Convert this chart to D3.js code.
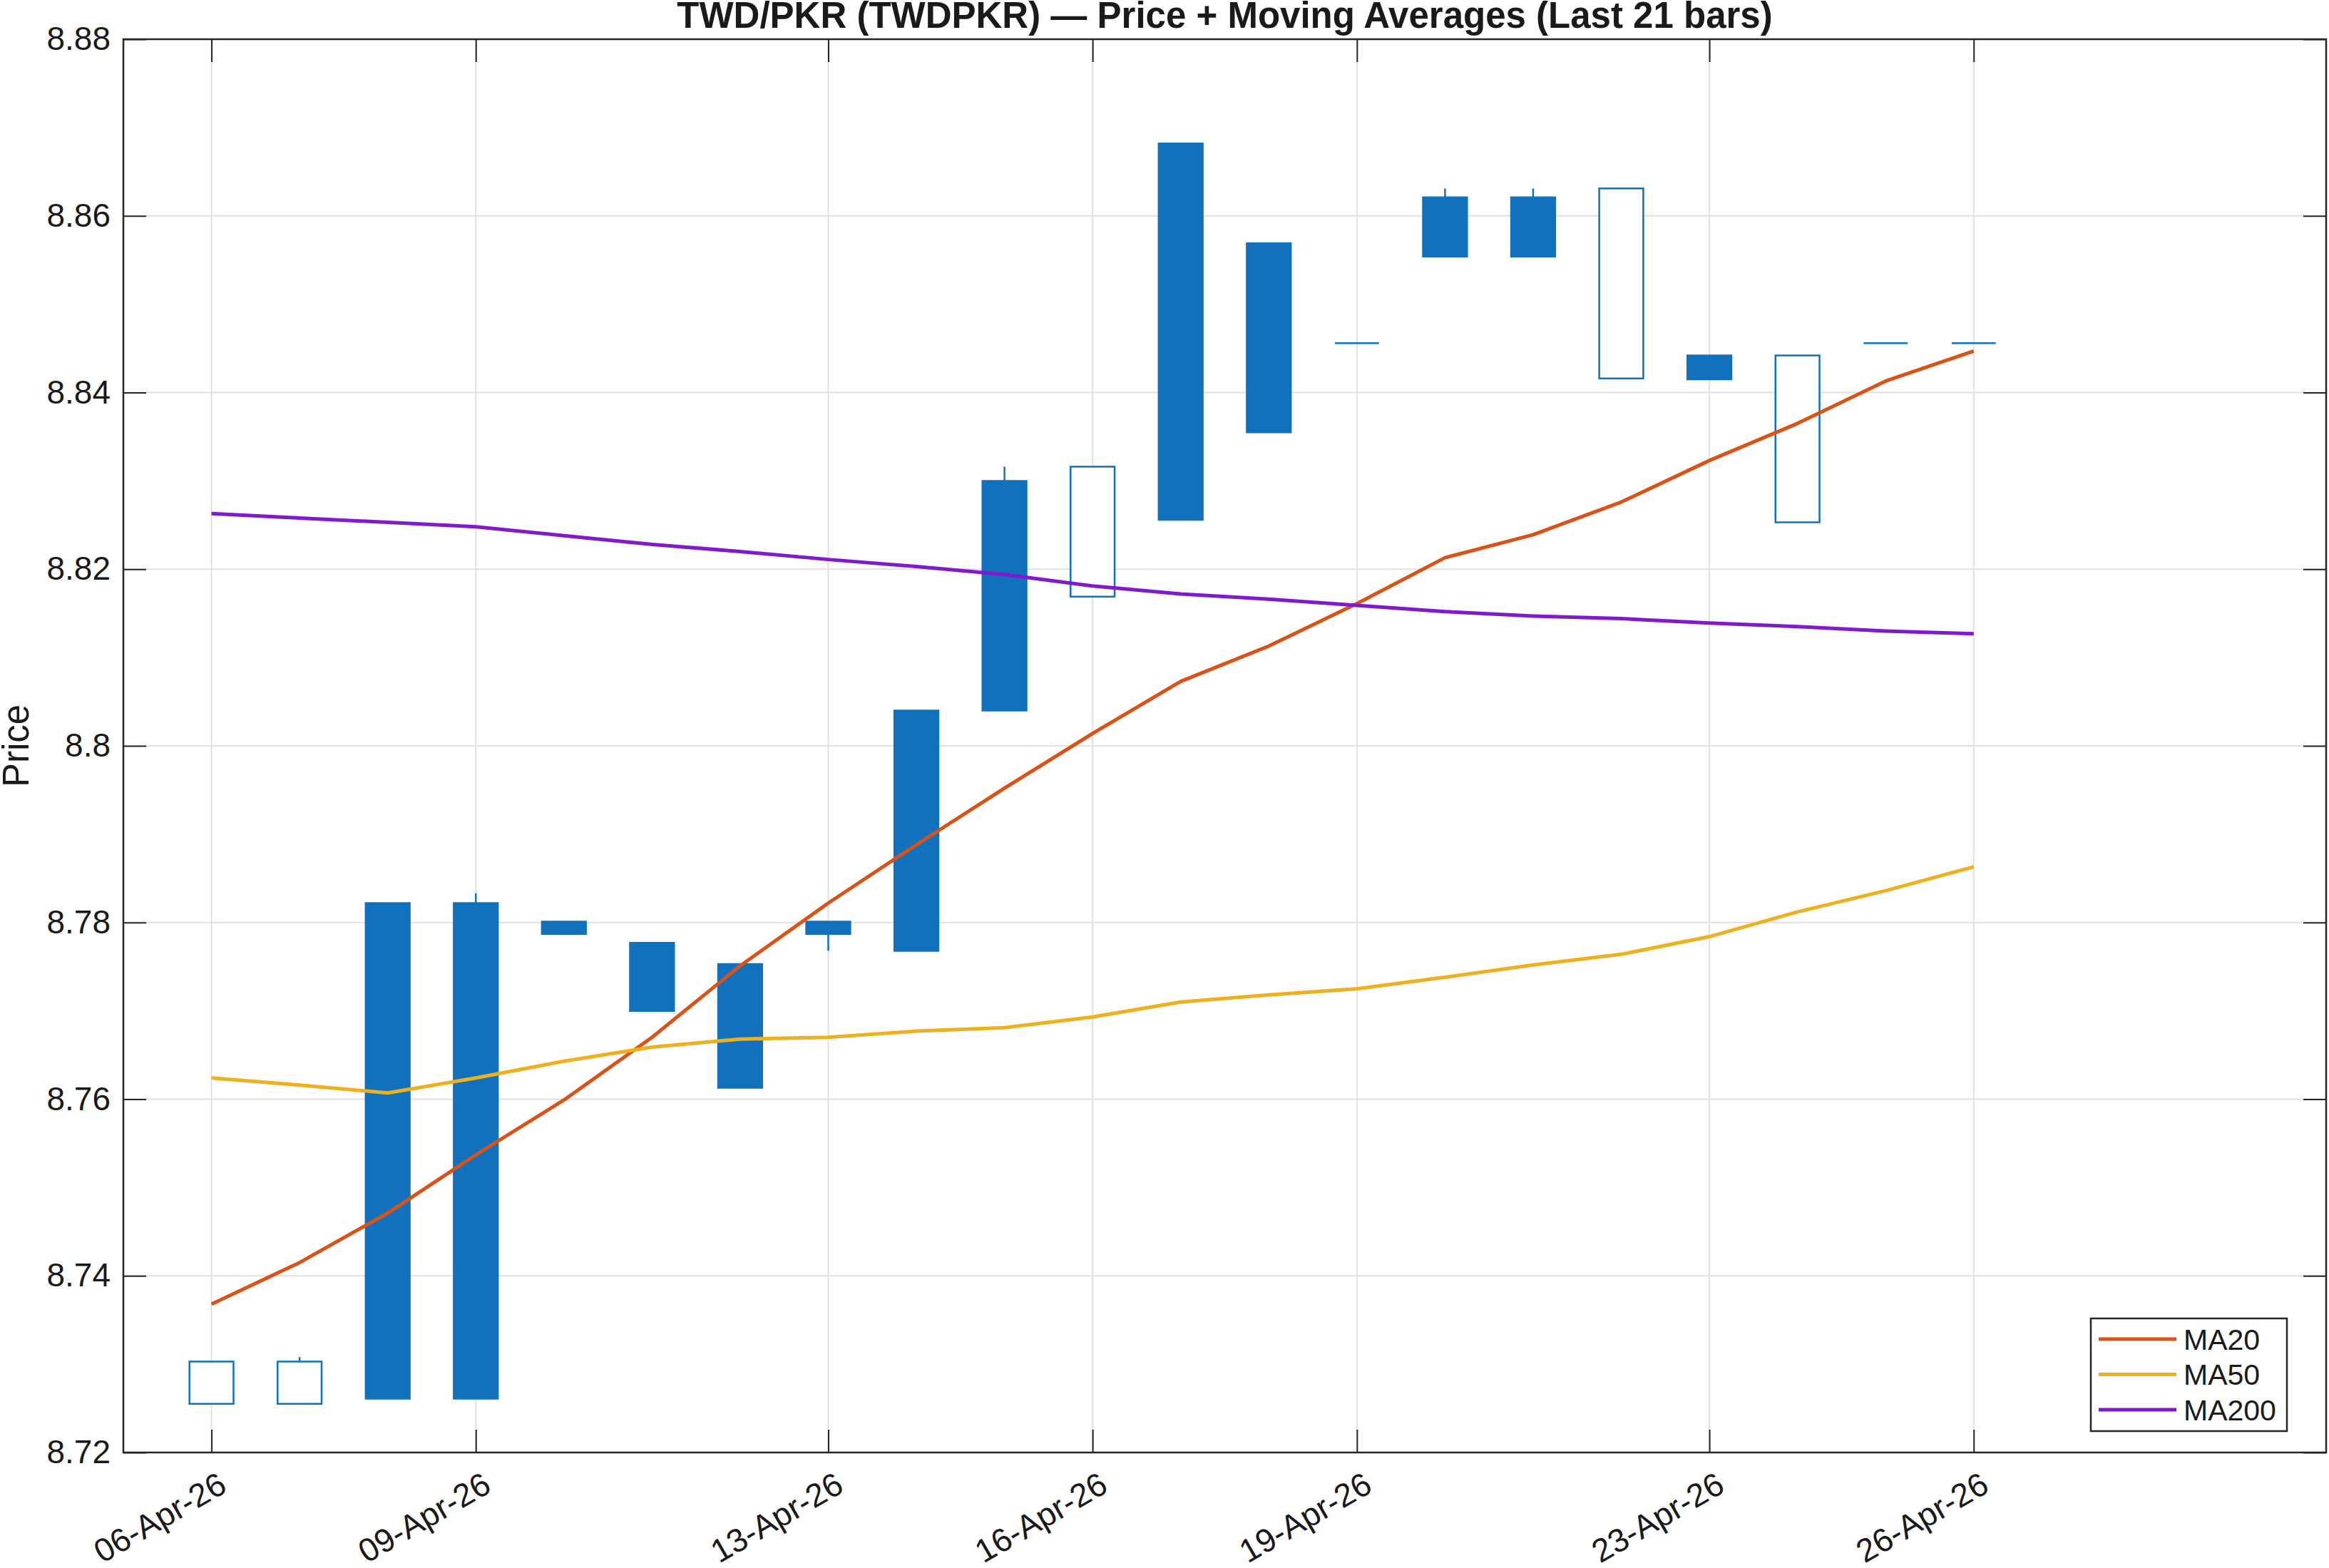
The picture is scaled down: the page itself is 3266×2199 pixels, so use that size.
<!DOCTYPE html>
<html>
<head>
<meta charset="utf-8">
<script src="https://cdn.jsdelivr.net/npm/d3@7"></script>
<style>
  body { margin: 0; background: #fff; }
  svg { display: block; font-family: "Liberation Sans", Arial, Helvetica, sans-serif; }
</style>
</head>
<body>
<svg id="chart"></svg>
<script>
// ---- data ----
const dates = ["2026-04-06", "2026-04-07", "2026-04-08", "2026-04-09", "2026-04-10", "2026-04-11", "2026-04-12",
               "2026-04-13", "2026-04-14", "2026-04-15", "2026-04-16", "2026-04-17", "2026-04-18", "2026-04-19",
               "2026-04-20", "2026-04-21", "2026-04-22", "2026-04-23", "2026-04-24", "2026-04-25", "2026-04-26"];
const openPx  = [8.7255, 8.7255, 8.7822, 8.7822, 8.7801, 8.7777, 8.7753, 8.7801, 8.8040, 8.8300, 8.8169,
                 8.8682, 8.8569, 8.8456, 8.8621, 8.8621, 8.8416, 8.8442, 8.8253, 8.8456, 8.8456];
const highPx  = [8.7303, 8.7308, 8.7822, 8.7833, 8.7801, 8.7777, 8.7753, 8.7801, 8.8040, 8.8316, 8.8316,
                 8.8682, 8.8569, 8.8456, 8.8631, 8.8631, 8.8631, 8.8442, 8.8442, 8.8456, 8.8456];
const lowPx   = [8.7255, 8.7255, 8.7261, 8.7261, 8.7787, 8.7700, 8.7613, 8.7768, 8.7768, 8.8040, 8.8169,
                 8.8256, 8.8355, 8.8456, 8.8554, 8.8554, 8.8416, 8.8415, 8.8253, 8.8456, 8.8456];
const closePx = [8.7303, 8.7303, 8.7261, 8.7261, 8.7787, 8.7700, 8.7613, 8.7787, 8.7768, 8.8040, 8.8316,
                 8.8256, 8.8355, 8.8456, 8.8554, 8.8554, 8.8631, 8.8415, 8.8442, 8.8456, 8.8456];

const ma20  = [8.7368, 8.7415, 8.7471, 8.7537, 8.7599, 8.7670, 8.7751, 8.7822, 8.7888, 8.7952, 8.8014,
               8.8073, 8.8113, 8.8161, 8.8213, 8.8239, 8.8276, 8.8323, 8.8365, 8.8413, 8.8447];
const ma50  = [8.7624, 8.7616, 8.7607, 8.7624, 8.7643, 8.7659, 8.7668, 8.7670, 8.7677, 8.7681, 8.7693,
               8.7710, 8.7718, 8.7725, 8.7738, 8.7752, 8.7764, 8.7784, 8.7812, 8.7836, 8.7863];
const ma200 = [8.8263, 8.8258, 8.8253, 8.8248, 8.8238, 8.8228, 8.8220, 8.8211, 8.8203, 8.8194, 8.8181,
               8.8172, 8.8166, 8.8159, 8.8152, 8.8147, 8.8144, 8.8139, 8.8135, 8.8130, 8.8127];

const xTickDates = ["2026-04-06", "2026-04-09", "2026-04-13", "2026-04-16", "2026-04-19", "2026-04-23", "2026-04-26"];
const xDomain = ["2026-04-05", "2026-04-30"];
const yTicks = [8.72, 8.74, 8.76, 8.78, 8.80, 8.82, 8.84, 8.86, 8.88];
const yDomain = [8.72, 8.88];

const maSeries = [
    { name: "MA20",  values: ma20,  color: "#D95319" },
    { name: "MA50",  values: ma50,  color: "#EDB120" },
    { name: "MA200", values: ma200, color: "#801ACC" }
];
const titleText = "TWD/PKR (TWDPKR) \u2014 Price + Moving Averages (Last 21 bars)";

// ---- layout ----
const width = 3266, height = 2199;
const margin = { top: 55, right: 4, bottom: 162, left: 173 };
const plotW = width - margin.left - margin.right;
const plotH = height - margin.top - margin.bottom;
const axisColor = "#262626";
const candleBlue = "#1271BD";
const tickLen = 32;

const parse = d3.utcParse("%Y-%m-%d");
const dateVals = dates.map(parse);

const x = d3.scaleUtc()
    .domain(xDomain.map(parse))
    .range([0, plotW]);
const y = d3.scaleLinear()
    .domain(yDomain)
    .range([plotH, 0]);

const svg = d3.select("#chart")
    .attr("width", width)
    .attr("height", height)
    .style("background-color", "#ffffff");

const g = svg.append("g")
    .attr("transform", "translate(" + margin.left + "," + margin.top + ")");

// ===== GRID =====
const grid = g.append("g").attr("class", "grid");
grid.selectAll("line.vx")
    .data(xTickDates.map(parse))
    .join("line")
    .attr("class", "vx")
    .attr("x1", d => x(d)).attr("x2", d => x(d))
    .attr("y1", 0).attr("y2", plotH)
    .attr("stroke", "#e1e1e1").attr("stroke-width", 2);
grid.selectAll("line.hy")
    .data(yTicks)
    .join("line")
    .attr("class", "hy")
    .attr("x1", 0).attr("x2", plotW)
    .attr("y1", d => y(d)).attr("y2", d => y(d))
    .attr("stroke", "#e1e1e1").attr("stroke-width", 2);

// ===== CANDLES =====
const step = x(dateVals[1]) - x(dateVals[0]);
const bodyW = step * 0.5;
const candles = dateVals.map((d, i) => ({
    date: d, open: openPx[i], high: highPx[i], low: lowPx[i], close: closePx[i]
}));

const cg = g.append("g").attr("class", "candles")
    .selectAll("g")
    .data(candles)
    .join("g")
    .attr("transform", d => "translate(" + x(d.date) + ",0)");

cg.append("line")
    .attr("x1", 0).attr("x2", 0)
    .attr("y1", d => y(d.high))
    .attr("y2", d => y(d.low))
    .attr("stroke", candleBlue)
    .attr("stroke-width", 2.5);

cg.append("path")
    .attr("d", d => {
        const top = y(Math.max(d.open, d.close)), bot = y(Math.min(d.open, d.close));
        return "M" + (-bodyW / 2) + "," + top + "H" + (bodyW / 2) + "V" + bot + "H" + (-bodyW / 2) + "Z";
    })
    .attr("fill", d => d.close > d.open ? "#ffffff" : candleBlue)
    .attr("stroke", candleBlue)
    .attr("stroke-width", 2.5);

// ===== MOVING AVERAGES =====
const line = d3.line()
    .x((v, i) => x(dateVals[i]))
    .y(v => y(v));

g.append("g").attr("class", "ma")
    .selectAll("path")
    .data(maSeries)
    .join("path")
    .attr("d", s => line(s.values))
    .attr("fill", "none")
    .attr("stroke", s => s.color)
    .attr("stroke-width", 5)
    .attr("stroke-linejoin", "round");

// ===== AXES =====
const fmtY = v => String(+v.toFixed(2));
const fmtX = d3.utcFormat("%d-%b-%y");

const xAxis = g.append("g")
    .attr("transform", "translate(0," + plotH + ")")
    .call(d3.axisBottom(x).tickValues(xTickDates.map(parse)).tickFormat(fmtX).tickSizeInner(-tickLen).tickSizeOuter(0));
xAxis.selectAll("text")
    .attr("font-size", 46)
    .attr("fill", "#1a1a1a")
    .attr("text-anchor", "end")
    .attr("y", 0).attr("dy", "0.72em")
    .attr("transform", "translate(7,25) rotate(-30)");

g.append("g")
    .call(d3.axisTop(x).tickValues(xTickDates.map(parse)).tickFormat("").tickSizeInner(-tickLen).tickSizeOuter(0));

const yAxis = g.append("g")
    .call(d3.axisLeft(y).tickValues(yTicks).tickFormat(fmtY).tickSizeInner(-tickLen).tickSizeOuter(0).tickPadding(18));
yAxis.selectAll("text")
    .attr("font-size", 46)
    .attr("fill", "#1a1a1a")
    .attr("x", -18);

g.append("g")
    .attr("transform", "translate(" + plotW + ",0)")
    .call(d3.axisRight(y).tickValues(yTicks).tickFormat("").tickSizeInner(-tickLen).tickSizeOuter(0));

g.selectAll(".domain").remove();
g.selectAll(".tick line").attr("stroke", axisColor).attr("stroke-width", 2);

// box around the plot
g.append("rect")
    .attr("width", plotW).attr("height", plotH)
    .attr("fill", "none")
    .attr("stroke", axisColor)
    .attr("stroke-width", 2.5);

// ===== LABELS =====
svg.append("text")
    .attr("x", margin.left + plotW / 2)
    .attr("y", 39)
    .attr("text-anchor", "middle")
    .attr("font-size", 51)
    .attr("font-weight", "bold")
    .attr("fill", "#1a1a1a")
    .text(titleText);

svg.append("text")
    .attr("transform", "translate(40," + (margin.top + plotH / 2) + ") rotate(-90)")
    .attr("text-anchor", "middle")
    .attr("font-size", 51)
    .attr("fill", "#1a1a1a")
    .text("Price");

// ===== LEGEND =====
const legend = svg.append("g")
    .attr("transform", "translate(2932,1849)");
legend.append("rect")
    .attr("width", 275).attr("height", 158)
    .attr("fill", "#ffffff")
    .attr("stroke", axisColor)
    .attr("stroke-width", 2.5);
const li = legend.selectAll("g.item")
    .data(maSeries)
    .join("g")
    .attr("class", "item")
    .attr("transform", (d, i) => "translate(0," + (29 + i * 49.5) + ")");
li.append("line")
    .attr("x1", 11).attr("x2", 120)
    .attr("stroke", d => d.color)
    .attr("stroke-width", 5);
li.append("text")
    .attr("x", 130)
    .attr("dy", "0.36em")
    .attr("font-size", 41)
    .attr("fill", "#1a1a1a")
    .text(d => d.name);
</script>
</body>
</html>
